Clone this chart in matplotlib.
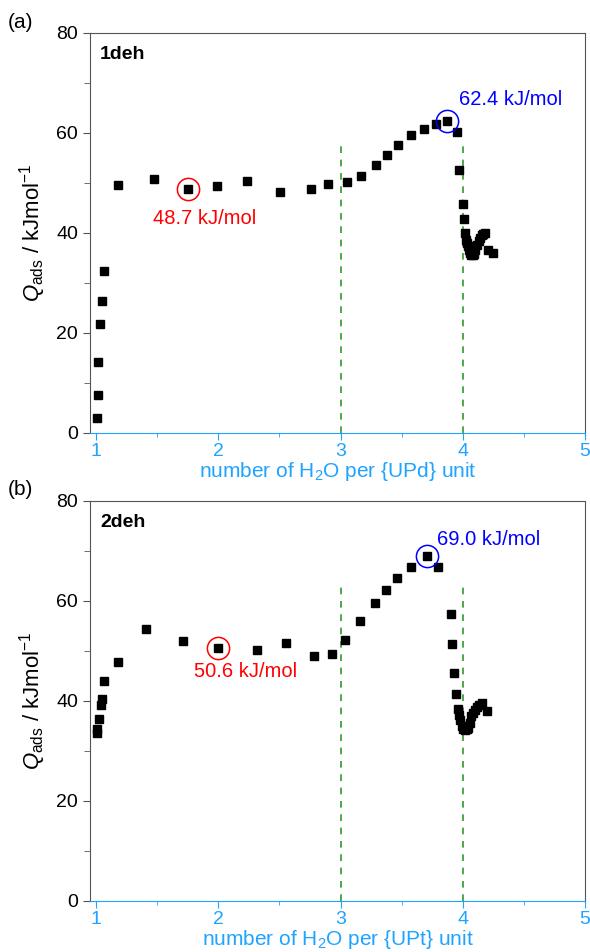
import matplotlib
matplotlib.use("Agg")
import matplotlib.pyplot as plt
from matplotlib.ticker import MultipleLocator

plt.rcParams['font.family'] = ['Liberation Sans', 'DejaVu Sans']
plt.rcParams['mathtext.fontset'] = 'custom'
plt.rcParams['mathtext.rm'] = 'Liberation Sans'
plt.rcParams['mathtext.it'] = 'Liberation Sans:italic'

# datos panel (a) 1deh
xa = [1.006, 1.014, 1.019, 1.033, 1.047, 1.065, 1.18, 1.47, 1.755, 1.99, 2.235, 2.505,
      2.76, 2.90, 3.05, 3.17, 3.29, 3.38, 3.47, 3.58, 3.68, 3.78, 3.87, 3.95, 3.97,
      4.0, 4.01, 4.02, 4.03, 4.035, 4.045, 4.05, 4.06, 4.07, 4.08, 4.09, 4.1, 4.115,
      4.13, 4.14, 4.155, 4.165, 4.18, 4.21, 4.25]
ya = [2.9, 7.6, 14.1, 21.7, 26.3, 32.3, 49.5, 50.7, 48.7, 49.4, 50.4, 48.2,
      48.8, 49.7, 50.1, 51.3, 53.6, 55.5, 57.5, 59.6, 60.7, 61.8, 62.4, 60.1, 52.6,
      45.8, 42.8, 39.9, 38.6, 38.0, 37.3, 36.6, 35.9, 35.5, 35.6, 35.8, 36.6, 37.5,
      38.3, 38.9, 39.6, 39.7, 39.9, 36.6, 35.9]

# datos panel (b) 2deh
xb = [1.006, 1.01, 1.025, 1.04, 1.05, 1.065, 1.18, 1.41, 1.71, 2.0, 2.32, 2.55,
      2.78, 2.93, 3.04, 3.16, 3.28, 3.37, 3.465, 3.58, 3.705, 3.795, 3.9, 3.91,
      3.93, 3.945, 3.96, 3.97, 3.98, 3.99, 4.005, 4.02, 4.035, 4.045, 4.06, 4.07,
      4.085, 4.1, 4.115, 4.13, 4.155, 4.195]
yb = [33.5, 34.3, 36.4, 39.2, 40.3, 43.9, 47.7, 54.4, 51.9, 50.6, 50.2, 51.6,
      49.0, 49.3, 52.1, 55.9, 59.5, 62.1, 64.6, 66.7, 69.0, 66.8, 57.4, 51.3,
      45.5, 41.4, 38.3, 37.2, 36.2, 34.9, 34.4, 34.2, 34.3, 34.5, 35.5, 36.9,
      37.6, 38.2, 38.8, 39.2, 39.5, 38.0]

paneles = [
    dict(x=xa, y=ya, nombre='1deh', etiqueta='(a)', unidad='UPd',
         min_x=1.755, min_y=48.7, min_txt='48.7 kJ/mol', min_pos=(1.89, 42.8),
         max_x=3.87, max_y=62.4, max_txt='62.4 kJ/mol', max_pos=(3.97, 66.6),
         dash_top=57.4),
    dict(x=xb, y=yb, nombre='2deh', etiqueta='(b)', unidad='UPt',
         min_x=2.0, min_y=50.6, min_txt='50.6 kJ/mol', min_pos=(2.22, 45.8),
         max_x=3.705, max_y=69.0, max_txt='69.0 kJ/mol', max_pos=(3.79, 72.2),
         dash_top=63.6),
]

azul = '#1ea3ff'
verde = '#2e9a2e'
gris = '#555555'

fig = plt.figure(figsize=(5.9, 9.52), dpi=100)
bottoms = [0.5452, 0.0536]

for p, b in zip(paneles, bottoms):
    ax = fig.add_axes([0.1525, b, 0.839, 0.4202])
    ax.plot(p['x'], p['y'], 's', color='black', markersize=6.3, linestyle='none', zorder=3)
    for xv in [3, 4]:
        ax.plot([xv, xv], [0, p['dash_top']], '--', color=verde, lw=1.2, dashes=(4, 4), zorder=2)
    # circulos de min y max
    ax.plot([p['min_x']], [p['min_y']], 'o', mfc='none', mec='red', ms=16, mew=1.1, zorder=4)
    ax.plot([p['max_x']], [p['max_y']], 'o', mfc='none', mec='blue', ms=16, mew=1.1, zorder=4)
    ax.text(p['min_pos'][0], p['min_pos'][1], p['min_txt'], color='red', fontsize=14.5,
            ha='center', va='center')
    ax.text(p['max_pos'][0], p['max_pos'][1], p['max_txt'], color='blue', fontsize=14.5,
            ha='left', va='center')
    ax.text(0.02, 0.945, p['nombre'], transform=ax.transAxes, fontsize=14,
            fontweight='bold', ha='left', va='center')

    ax.set_xlim(0.95, 5.0)
    ax.set_ylim(0, 80)
    ax.xaxis.set_major_locator(MultipleLocator(1))
    ax.xaxis.set_minor_locator(MultipleLocator(0.5))
    ax.yaxis.set_major_locator(MultipleLocator(20))
    ax.yaxis.set_minor_locator(MultipleLocator(10))
    ax.tick_params(axis='x', which='both', colors=azul, labelsize=14, direction='out', pad=2)
    ax.tick_params(axis='x', which='major', length=5)
    ax.tick_params(axis='x', which='minor', length=3)
    ax.tick_params(axis='y', which='both', colors=gris, labelcolor='black', labelsize=14)
    ax.tick_params(axis='y', which='major', length=5)
    ax.tick_params(axis='y', which='minor', length=4)
    for s in ['left', 'right', 'top']:
        ax.spines[s].set_color(gris)
    ax.spines['bottom'].set_color(azul)
    ax.set_xlabel('number of H$_2$O per {%s} unit' % p['unidad'], color=azul,
                  fontsize=15, labelpad=0)
    ax.set_ylabel(r'$Q_{\rm ads}$ / kJmol$^{-1}$', fontsize=16, labelpad=6)

fig.text(8 / 590, 1 - 22 / 952, '(a)', fontsize=15, va='center')
fig.text(8 / 590, 1 - 490 / 952, '(b)', fontsize=15, va='center')

fig.savefig('out.png', dpi=100)
